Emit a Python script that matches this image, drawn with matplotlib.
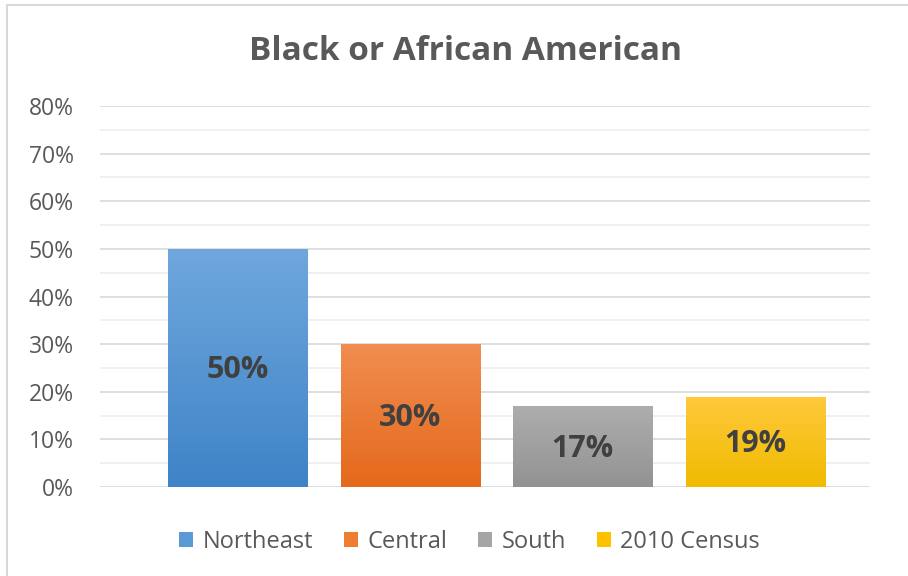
import numpy as np
from matplotlib import pyplot as plt
from matplotlib.colors import LinearSegmentedColormap
from matplotlib.patches import Rectangle

regions = ["Northeast", "Central", "South", "2010 Census"]
values = [0.50, 0.30, 0.17, 0.19]
labels = ["50%", "30%", "17%", "19%"]
yticks = [0.0, 0.1, 0.2, 0.3, 0.4, 0.5, 0.6, 0.7, 0.8]
ytick_labels = ["0%", "10%", "20%", "30%", "40%", "50%", "60%", "70%", "80%"]
yminor = [0.05, 0.15, 0.25, 0.35, 0.45, 0.55, 0.65, 0.75]

# top / bottom colours of the gradient fill
top_colors = ["#6fa7dd", "#f08d50", "#adadad", "#ffc93c"]
bottom_colors = ["#3f84c7", "#e5691c", "#939393", "#f0bb00"]
mid_colors = ["#5b9bd5", "#ed7d31", "#a5a5a5", "#ffc000"]

plt.rcParams['font.family'] = ['Open Sans', 'DejaVu Sans']

fig = plt.figure(figsize=(9.08, 5.76), dpi=100)
fig.patches.append(Rectangle((7/908, -0.01), 1.0, 1 - 5/576 + 0.01, transform=fig.transFigure,
                             fill=False, edgecolor="#d9d9d9", linewidth=1.5))
ax = fig.add_axes([100/908, 89/576, 770/908, 381/576])

x = np.arange(len(regions))
width = 0.805
bars = ax.bar(x, values, width=width, color=mid_colors, label=regions, zorder=2)

# gradient fill
for bar, c1, c2 in zip(bars, top_colors, bottom_colors):
    cmap = LinearSegmentedColormap.from_list("g", [c2, c1])
    x0, y0 = bar.get_x(), bar.get_y()
    w, h = bar.get_width(), bar.get_height()
    grad = np.linspace(0, 1, 100).reshape(-1, 1)
    im = ax.imshow(grad, cmap=cmap, aspect="auto", origin="lower",
                   extent=(x0, x0 + w, y0, y0 + h), zorder=3)
    im.set_clip_path(bar)

for xi, v, lab in zip(x, values, labels):
    ax.text(xi, v / 2 - 0.005, lab, ha="center", va="center", fontsize=22,
            fontweight="bold", color="#404040", zorder=4)

ax.set_xlim(-0.796, 3.663)
ax.set_ylim(0, 0.8)
ax.set_yticks(yticks)
ax.set_yticklabels(ytick_labels, fontsize=16.5, color="#595959")
ax.set_yticks(yminor, minor=True)
ax.set_xticks([])
ax.grid(axis="y", which="major", color="#d9d9d9", linewidth=1.2, zorder=0)
ax.grid(axis="y", which="minor", color="#eeeeee", linewidth=1.2, zorder=0)
ax.tick_params(axis="y", which="both", length=0, pad=19)
for s in ax.spines.values():
    s.set_visible(False)

fig.text(465/908, 1 - 52/576, "Black or African American", ha="center", va="center",
         fontsize=24, fontweight="bold", color="#595959")

ax.legend(handles=bars, labels=regions, loc="center", bbox_to_anchor=(0.48, -0.145),
          ncol=4, frameon=False, fontsize=17, handlelength=0.6, handleheight=0.6,
          handletextpad=0.4, columnspacing=1.3, labelcolor="#595959")

plt.savefig("out.png", dpi=100)
